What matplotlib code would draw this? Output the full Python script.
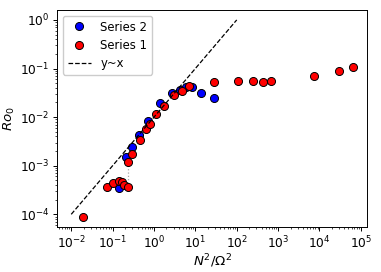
import matplotlib
matplotlib.use("Agg")
import matplotlib.pyplot as plt

# Series 2 (blue)
s2_x = [0.145, 0.216, 0.29, 0.436, 0.714, 1.41, 2.79, 4.24, 6.1, 8.5, 14, 27.5]
s2_y = [3.4e-4, 1.5e-3, 2.4e-3, 4.3e-3, 8.4e-3, 0.0193, 0.0316, 0.037, 0.042, 0.0415, 0.0316, 0.0248]

# Series 1 (red)
s1_x = [0.0188, 0.0746, 0.104, 0.145, 0.171, 0.19, 0.238, 0.238, 0.29, 0.452, 0.65, 0.785,
        1.11, 1.70, 3.1, 4.64, 7.0, 27.5, 109, 242, 432, 661, 7200, 29100, 64000]
s1_y = [8.7e-5, 3.6e-4, 4.4e-4, 4.9e-4, 4.7e-4, 4.1e-4, 3.6e-4, 1.2e-3, 1.77e-3, 3.4e-3, 5.6e-3, 7.2e-3,
        0.0116, 0.0168, 0.0288, 0.0353, 0.0447, 0.052, 0.0553, 0.0542, 0.0527, 0.0553, 0.0689, 0.089, 0.108]

# reference line y ~ x
ref_x = [0.01, 100]
ref_y = [1e-4, 1.0]

# connector between two points at same x
conn_x = [0.238, 0.238]
conn_y = [1.2e-3, 3.6e-4]

plt.rcParams['font.family'] = ['DejaVu Sans']
fs = 8.8
fig = plt.figure(figsize=(3.81, 2.72), dpi=100)
ax = fig.add_axes([0.15, 0.165, 0.813, 0.798])

ax.plot(conn_x, conn_y, ':', color='darkgray', lw=0.9, zorder=1)
ax.plot(s2_x, s2_y, 'o', color='blue', mec='black', mew=0.7, ms=5.8, ls='none', label='Series 2', zorder=2)
ax.plot(s1_x, s1_y, 'o', color='red', mec='black', mew=0.7, ms=5.8, ls='none', label='Series 1', zorder=3)
ax.plot(ref_x, ref_y, '--', color='black', lw=0.9, label='y~x', zorder=4)

ax.set_xscale('log')
ax.set_yscale('log')
ax.set_xlabel(r'$N^2/\Omega^2$', fontsize=9.6, labelpad=1)
ax.set_ylabel(r'$Ro_0$', fontsize=9.6, labelpad=2)
ax.tick_params(labelsize=fs, length=2.8, width=0.7, pad=2.5)
ax.tick_params(which='minor', length=1.6, width=0.5)
for sp in ax.spines.values():
    sp.set_linewidth(0.7)
ax.legend(loc='upper left', fontsize=8.4, framealpha=1.0, handlelength=2.0,
          borderpad=0.4, labelspacing=0.45, handletextpad=0.8)

fig.savefig('out.png', dpi=100)
